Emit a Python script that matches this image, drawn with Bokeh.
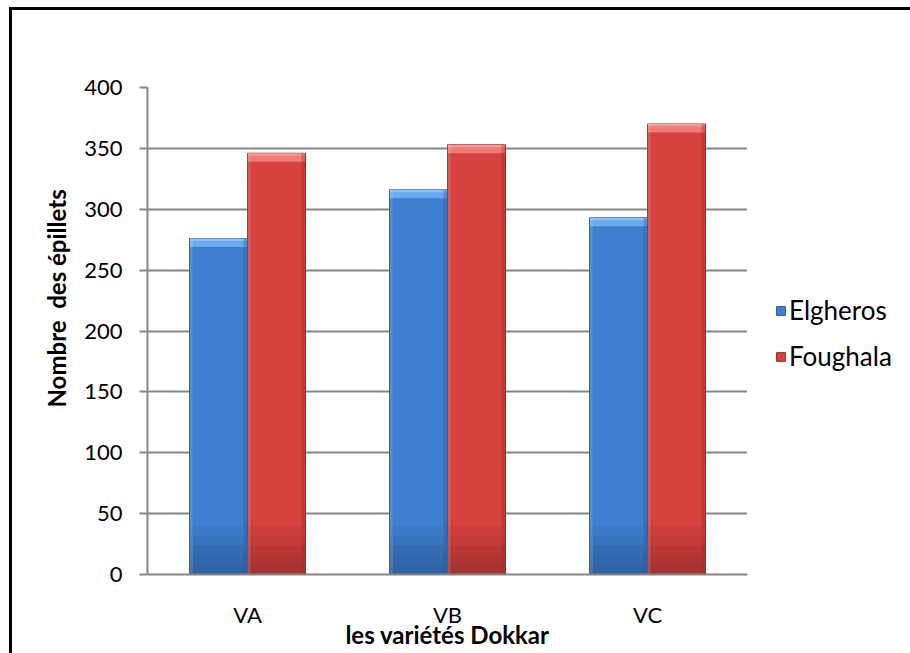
from bokeh.plotting import figure
from bokeh.layouts import row
from bokeh.models import (ColumnDataSource, FactorRange, FixedTicker, Legend, LegendItem,
                          Title, Range1d)
from bokeh.transform import dodge
from bokeh.embed import file_html
from bokeh.resources import INLINE

# Data
varieties = ["VA", "VB", "VC"]
series = ["Elgheros", "Foughala"]
elgheros = [276, 316, 293]
foughala = [346, 353, 370]
y_ticks = [0, 50, 100, 150, 200, 250, 300, 350, 400]

FONT = "Lato"
GRID = "#868686"
BLUE = "#3f7fcf"
RED = "#d7423e"

src = ColumnDataSource(dict(v=varieties, a=elgheros, b=foughala))

p = figure(width=735, height=643, x_range=FactorRange(*varieties, range_padding=0),
           y_range=Range1d(0, 400), output_backend="svg", toolbar_location=None,
           min_border_left=135, min_border_right=0, min_border_top=77,
           min_border_bottom=79)
p.outline_line_color = None
p.background_fill_color = "white"
p.border_fill_color = "white"

# axes
p.yaxis.ticker = FixedTicker(ticks=y_ticks)
p.yaxis.minor_tick_line_color = None
p.yaxis.major_tick_in = 0
p.yaxis.major_tick_out = 8
p.yaxis.major_tick_line_color = GRID
p.yaxis.major_tick_line_width = 2
p.yaxis.axis_line_color = GRID
p.yaxis.axis_line_width = 2
p.yaxis.major_label_standoff = 17
p.yaxis.major_label_text_font = FONT
p.yaxis.major_label_text_font_size = "22px"
p.yaxis.major_label_text_color = "black"

p.xaxis.major_tick_line_color = None
p.xaxis.minor_tick_line_color = None
p.xaxis.major_tick_out = 0
p.xaxis.minor_tick_out = 0
p.xaxis.axis_line_color = GRID
p.xaxis.axis_line_width = 2
p.xaxis.major_label_standoff = 26
p.xaxis.major_label_text_font = FONT
p.xaxis.major_label_text_font_size = "22px"
p.xaxis.major_label_text_color = "black"
p.xaxis.axis_label = "les variétés Dokkar"
p.xaxis.axis_label_standoff = -11
p.xaxis.axis_label_text_font = FONT
p.xaxis.axis_label_text_font_style = "bold"
p.xaxis.axis_label_text_font_size = "24px"
p.xaxis.axis_label_text_color = "black"

p.xgrid.grid_line_color = None
p.ygrid.grid_line_color = GRID
p.ygrid.grid_line_width = 2

OFF = 0.145
W = 0.29


def bar(field, off, body, cap, dark, edge):
    x = dodge("v", off, range=p.x_range)
    p.vbar(x=x, top=field, bottom=0, width=W, source=src, fill_color=body,
           line_color=edge, line_width=1)
    # darker shading toward the base
    for i, c in enumerate(dark):
        p.vbar(x=x, top=40 - 8 * i, bottom=0, width=W - 0.004, source=src,
               fill_color=c, line_color=None)
    # top bevel
    vals = src.data[field]
    cap_src = ColumnDataSource(dict(v=varieties, t=vals, b=[v - 7 for v in vals],
                                    h=[v - 2 for v in vals]))
    p.vbar(x=x, top="t", bottom="b", width=W - 0.004, source=cap_src,
           fill_color=cap, line_color=None)
    p.vbar(x=x, top="t", bottom="h", width=W - 0.004, source=cap_src,
           fill_color="white", fill_alpha=0.25, line_color=None)
    # side edges
    p.vbar(x=dodge("v", off + W / 2 - 0.01, range=p.x_range), top="t", bottom=0,
           width=0.02, source=cap_src, fill_color=edge, fill_alpha=0.35, line_color=None)
    p.vbar(x=dodge("v", off - W / 2 + 0.008, range=p.x_range), top="t", bottom=0,
           width=0.016, source=cap_src, fill_color="white", fill_alpha=0.12, line_color=None)


bar("a", -OFF, BLUE, "#6aaaf0", ["#3c79c6", "#3974be", "#356db4", "#3168ab", "#2f64a6"],
    "#2a5a98")
bar("b", OFF, RED, "#f07a76", ["#ce3f3b", "#c43c38", "#b93835", "#af3533", "#a63331"],
    "#9a2e2c")

p.add_layout(Title(text="Nombre\u00a0 des épillets", align="left", offset=167, text_font=FONT,
                   text_font_style="bold", text_font_size="24px", text_color="black",
                   standoff=22), "left")

# legend panel to the right of the plot area; its key glyphs sit outside the view
q = figure(width=163, height=643, x_range=Range1d(0, 1), y_range=Range1d(0, 1),
           output_backend="svg", toolbar_location=None, x_axis_type=None,
           y_axis_type=None, min_border=0)
q.outline_line_color = None
q.grid.visible = False
kb = q.vbar(x=[-10], top=[-10], width=0.1, fill_color=BLUE, line_color="#2a5a98")
kr = q.vbar(x=[-10], top=[-10], width=0.1, fill_color=RED, line_color="#9a2e2c")
legend = Legend(items=[LegendItem(label=series[0], renderers=[kb]),
                       LegendItem(label=series[1], renderers=[kr])],
                location=(28, 202), border_line_color=None, background_fill_alpha=0,
                label_text_font=FONT, label_text_font_size="26px", label_text_color="black",
                glyph_width=11, glyph_height=11, label_standoff=3, spacing=14, padding=0,
                margin=0)
q.add_layout(legend, "center")

lay = row(p, q, spacing=0)
# black frame lines on the left and top of the chart box
lay.styles = {"margin-left": "9px", "margin-top": "7px",
              "border-left": "3px solid black", "border-top": "3px solid black"}

open("out.html", "w").write(file_html(lay, INLINE))
